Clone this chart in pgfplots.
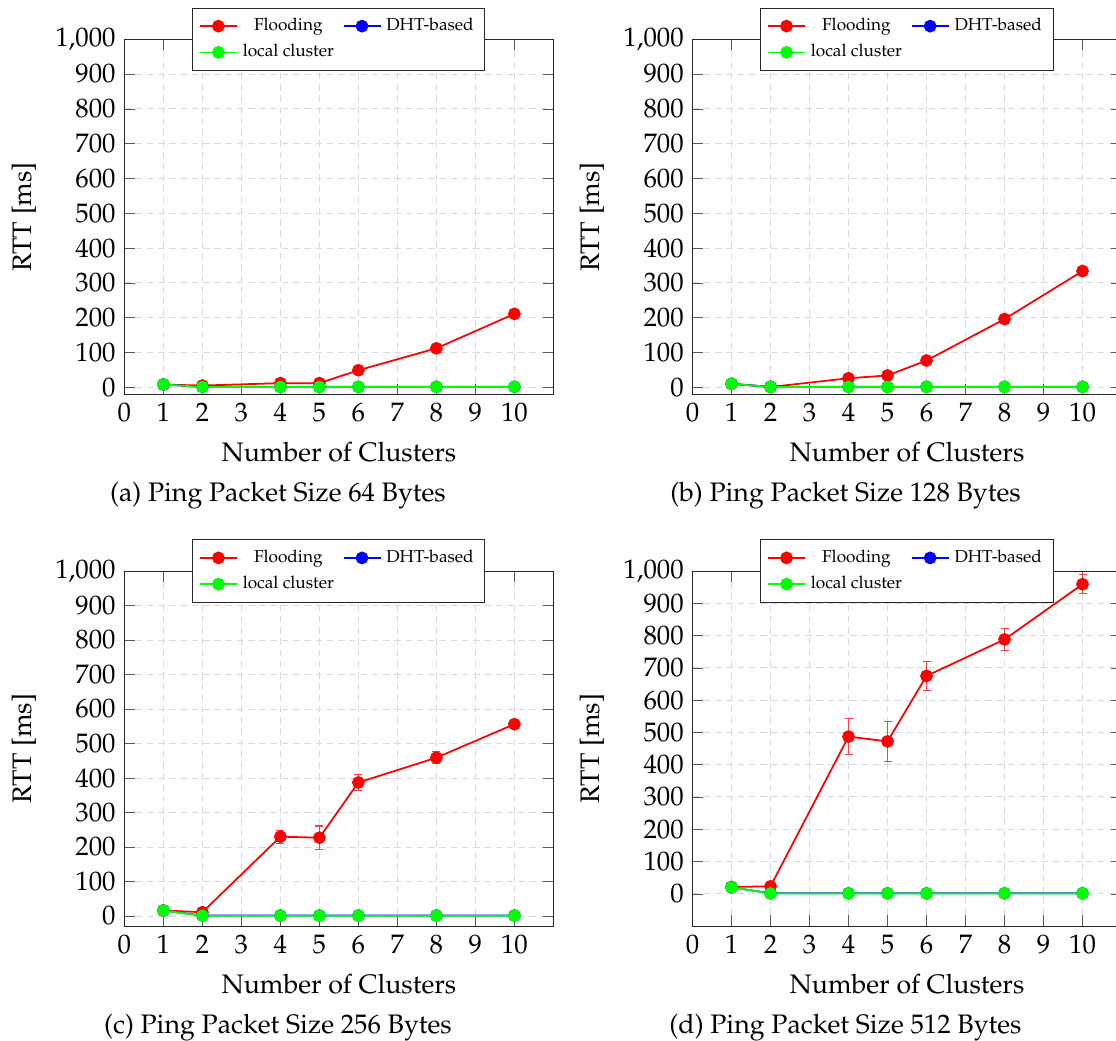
\documentclass[border=0pt]{standalone}
\usepackage[T1]{fontenc}
\usepackage{mathpazo}
\usepackage{pgfplots}
\pgfplotsset{compat=1.18}
\pgfplotsset{
  rttaxis/.style={
    scale only axis, width=171.6pt, height=142pt,
    xmin=0, xmax=11, ymax=1000,
    xtick={0,...,10}, ytick={0,100,...,1000},
    grid=major,
    grid style={dash pattern=on 2.6pt off 1.9pt, gray!30, line width=0.4pt},
    major tick style={gray!70!black},
    axis line style={black!85},
    xlabel={Number of Clusters}, ylabel={RTT [ms]},
    xlabel style={at={(axis description cs:0.5,-0.1625)}, anchor=center},
    ylabel style={at={(axis description cs:-0.2343,0.5)}, anchor=center},
    legend columns=2,
    legend cell align=center,
    legend style={at={(0.5,1)}, anchor=center, font=\fontsize{6.9}{8.5}\selectfont,
      draw=black!85, fill=white, inner xsep=2.5pt, inner ysep=2pt,
      /tikz/every even column/.append style={column sep=1.5pt}},
    legend image code/.code={\draw[mark repeat=2,mark phase=2] plot coordinates {(0cm,0cm) (0.26cm,0cm) (0.52cm,0cm)};},
  },
  fl/.style={color=red, line width=0.7pt, mark=*, mark size=2.2pt, mark options={solid, fill=red},
    error bars/.cd, y dir=both, y explicit,
    error bar style={red!75, line width=0.45pt},
    error mark options={rotate=90, red!75, mark size=1.6pt, line width=0.45pt}},
  dht/.style={color=blue, line width=0.7pt, mark=*, mark size=2.2pt, mark options={solid, fill=blue}},
  lc/.style={color=green, line width=0.7pt, mark=*, mark size=2.2pt, mark options={solid, fill=green}},
}
\begin{document}
\begin{tikzpicture}[font=\fontsize{10.7}{13}\selectfont]
% (a)
\begin{axis}[rttaxis, at={(49.75pt,-15.7pt)}, anchor=north west, ymin=-20]
\addplot[fl] coordinates {(1,8) +- (0,1) (2,5) +- (0,1) (4,12) +- (0,1) (5,12) +- (0,1) (6,49) +- (0,2) (8,112) +- (0,2) (10,211) +- (0,2)};
\addplot[dht] coordinates {(1,8) (2,1.3) (4,1.3) (5,1.3) (6,1.3) (8,1.3) (10,1.3)};
\addplot[lc] coordinates {(1,8) (2,1) (4,1) (5,1) (6,1) (8,1) (10,1)};
\legend{Flooding, DHT-based, local cluster}
\end{axis}
% (b)
\begin{axis}[rttaxis, at={(277pt,-15.7pt)}, anchor=north west, ymin=-20]
\addplot[fl] coordinates {(1,10) +- (0,1) (2,1) +- (0,1) (4,26) +- (0,2) (5,34) +- (0,2) (6,77) +- (0,2) (8,196) +- (0,3) (10,334) +- (0,3)};
\addplot[dht] coordinates {(1,10) (2,1.3) (4,1.3) (5,1.3) (6,1.3) (8,1.3) (10,1.3)};
\addplot[lc] coordinates {(1,10) (2,1) (4,1) (5,1) (6,1) (8,1) (10,1)};
\legend{Flooding, DHT-based, local cluster}
\end{axis}
% (c)
\begin{axis}[rttaxis, at={(49.75pt,-228.4pt)}, anchor=north west, ymin=-29]
\addplot[fl] coordinates {(1,16) +- (0,2) (2,11) +- (0,2) (4,230) +- (0,19) (5,227) +- (0,34) (6,387) +- (0,24) (8,459) +- (0,17) (10,556) +- (0,12)};
\addplot[dht] coordinates {(1,16) (2,1.3) (4,1.3) (5,1.3) (6,1.3) (8,1.3) (10,1.3)};
\addplot[lc] coordinates {(1,16) (2,1) (4,1) (5,1) (6,1) (8,1) (10,1)};
\legend{Flooding, DHT-based, local cluster}
\end{axis}
% (d)
\begin{axis}[rttaxis, at={(277pt,-228.4pt)}, anchor=north west, ymin=-100]
\addplot[fl] coordinates {(1,21) +- (0,2) (2,23) +- (0,3) (4,487) +- (0,55) (5,472) +- (0,61) (6,675) +- (0,46) (8,788) +- (0,33) (10,959) +- (0,29)};
\addplot[dht] coordinates {(1,20) (2,1.3) (4,1.3) (5,1.3) (6,1.3) (8,1.3) (10,1.3)};
\addplot[lc] coordinates {(1,20) (2,1) (4,1) (5,1) (6,1) (8,1) (10,1)};
\legend{Flooding, DHT-based, local cluster}
\end{axis}
\node[anchor=base] at (111.2pt,-200.7pt) {(a) Ping Packet Size 64 Bytes};
\node[anchor=base] at (338.2pt,-200.7pt) {(b) Ping Packet Size 128 Bytes};
\node[anchor=base] at (111.2pt,-413.2pt) {(c) Ping Packet Size 256 Bytes};
\node[anchor=base] at (338.2pt,-413.2pt) {(d) Ping Packet Size 512 Bytes};
\pgfresetboundingbox
\path (0pt,0pt) rectangle (446.4pt,-416pt);
\end{tikzpicture}
\end{document}
